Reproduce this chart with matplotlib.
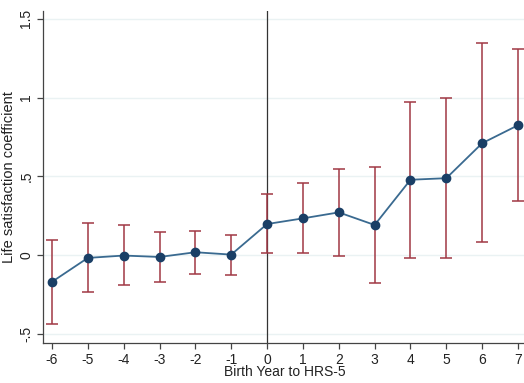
import matplotlib
matplotlib.use("Agg")
import matplotlib.pyplot as plt

years = [-6, -5, -4, -3, -2, -1, 0, 1, 2, 3, 4, 5, 6, 7]
coef = [-0.169, -0.017, -0.002, -0.011, 0.019, 0.004, 0.198, 0.234, 0.272, 0.192, 0.479, 0.489, 0.711, 0.825]
ci_hi = [0.097, 0.204, 0.192, 0.150, 0.156, 0.131, 0.386, 0.460, 0.550, 0.559, 0.973, 0.996, 1.344, 1.310]
ci_lo = [-0.437, -0.232, -0.192, -0.169, -0.118, -0.124, 0.013, 0.013, -0.004, -0.179, -0.017, -0.017, 0.082, 0.342]
yticks = [-0.5, 0, 0.5, 1, 1.5]
yticklabels = ["-.5", "0", ".5", "1", "1.5"]

plt.rcParams['font.family'] = ['Liberation Sans', 'DejaVu Sans']

W, H = 524, 383
fig = plt.figure(figsize=(W/100, H/100), dpi=100)
left, right = 43, 527
top, bottom = 11, 343
ax = fig.add_axes([left/W, 1 - bottom/H, (right-left)/W, (bottom-top)/H])

ax.set_xlim(-6.25, 7.25)
ax.set_ylim(-0.557, 1.55)

for y in yticks:
    ax.axhline(y, color='#eaf2f3', lw=1.0, zorder=0)
ax.axvline(0, color='#333333', lw=0.9, zorder=1)

err_lo = [c - l for c, l in zip(coef, ci_lo)]
err_hi = [h - c for c, h in zip(coef, ci_hi)]
ax.errorbar(years, coef, yerr=[err_lo, err_hi], fmt='none', ecolor='#a03844',
            elinewidth=1.1, capsize=4, capthick=1.1, zorder=2)
ax.plot(years, coef, color='#3a6a90', lw=1.3, zorder=3)
ax.plot(years, coef, 'o', color='#1a3f66', ms=6, zorder=4)

ax.set_xticks(years)
ax.set_xticklabels([str(y) for y in years])
ax.set_yticks(yticks)
ax.set_yticklabels(yticklabels, rotation=90, va='center')

for s in ['top', 'right']:
    ax.spines[s].set_visible(False)
for s in ['left', 'bottom']:
    ax.spines[s].set_color('#444444')
    ax.spines[s].set_linewidth(0.9)
ax.tick_params(axis='both', direction='out', length=4, width=0.9, color='#444444',
               labelsize=10, labelcolor='#222222', pad=3)

ax.set_xlabel("Birth Year to HRS-5", fontsize=10, color='#222222', labelpad=-1)
ax.set_ylabel("Life satisfaction coefficient", fontsize=10.5, color='#222222', labelpad=2)

fig.savefig("out.png", dpi=100, facecolor='white')
